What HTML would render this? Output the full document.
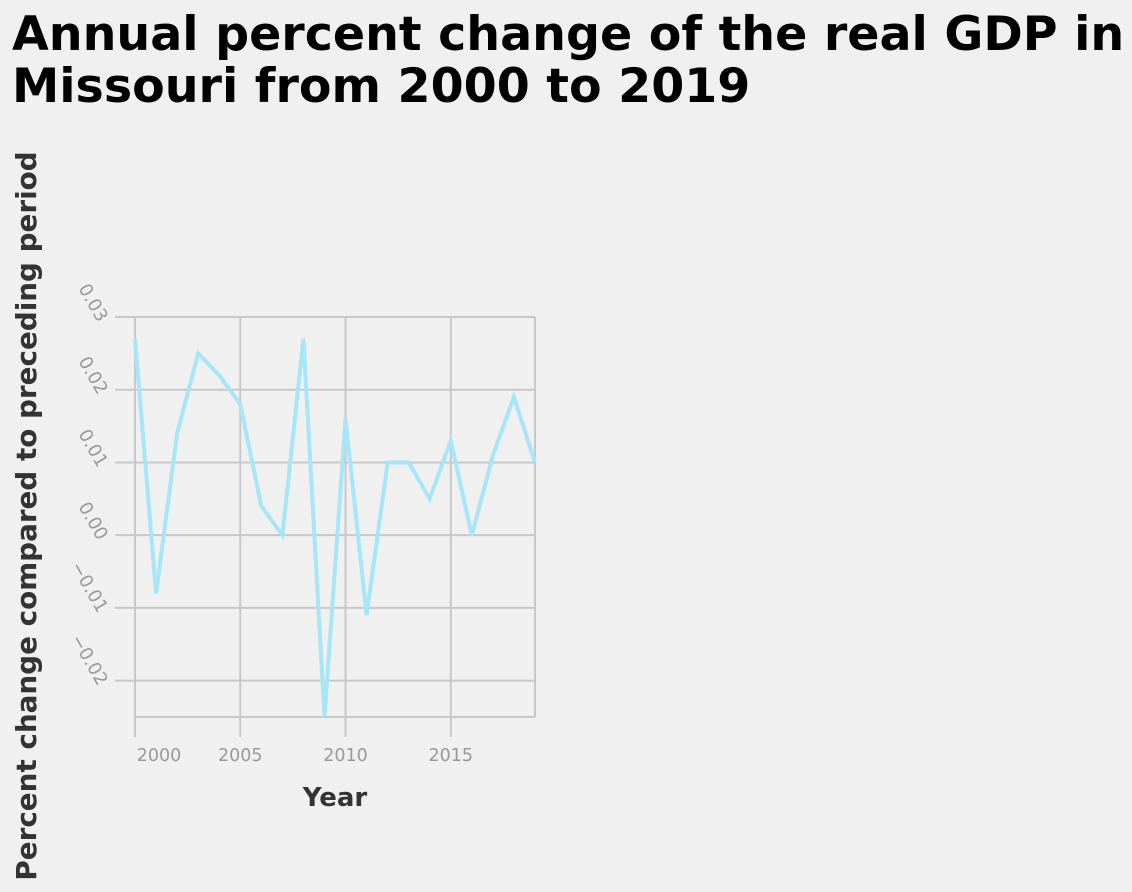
<!DOCTYPE html>
<html><head><meta charset="utf-8"><style>
body{margin:0;background:#f0f0f0;}
svg{display:block;font-family:"DejaVu Sans","Liberation Sans",sans-serif;}
</style></head><body>
<svg width="1132" height="892">
<rect width="1132" height="892" fill="#f0f0f0"/>
<text x="12" y="50" font-size="47.5" font-weight="bold" fill="#000">Annual percent change of the real GDP in</text>
<text x="12" y="102" font-size="47.5" font-weight="bold" fill="#000">Missouri from 2000 to 2019</text>
<g id="grid"></g>
<g id="xt"></g>
<g id="yt"></g>
<path id="line" fill="none" stroke="#a6e6f8" stroke-width="4" stroke-linejoin="miter"/>
<text x="335" y="806" font-size="26" font-weight="bold" fill="#333" text-anchor="middle">Year</text>
<text transform="translate(36,516) rotate(-90)" font-size="27.8" font-weight="bold" fill="#333" text-anchor="middle">Percent change compared to preceding period</text>
</svg>
<script>
const years=[2000,2001,2002,2003,2004,2005,2006,2007,2008,2009,2010,2011,2012,2013,2014,2015,2016,2017,2018,2019];
const values=[0.027,-0.008,0.014,0.025,0.022,0.018,0.004,0.000,0.027,-0.025,0.016,-0.011,0.010,0.010,0.005,0.013,0.000,0.011,0.019,0.010];
const xTicks=[2000,2005,2010,2015];
const yTicks=[0.03,0.02,0.01,0.00,-0.01,-0.02];
const yLabels=["0.03","0.02","0.01","0.00","\u22120.01","\u22120.02"];
const NS="http://www.w3.org/2000/svg";
const X0=135,X1=535,Y0=717,Y1=317;
const xs=v=>X0+(v-2000)/(2019-2000)*(X1-X0);
const ys=v=>Y0-(v+0.025)/(0.055)*(Y0-Y1);
function mk(tag,attrs,parent){const e=document.createElementNS(NS,tag);for(const k in attrs)e.setAttribute(k,attrs[k]);parent.appendChild(e);return e;}
const grid=document.getElementById('grid'),xt=document.getElementById('xt'),yt=document.getElementById('yt');
yTicks.forEach((t,i)=>{
 const l=mk('line',{x1:115,x2:X1,y1:ys(t),y2:ys(t),stroke:'#c8c8c8','stroke-width':2},grid);
 
 
 const y=ys(t);
 const tx=mk('text',{transform:`translate(98,${y+6}) rotate(60)`,'font-size':18,fill:'#999','text-anchor':'end'},yt);
 tx.textContent=yLabels[i];
 
 
});
const b=mk('line',{x1:X0,x2:X1,y1:Y0,y2:Y0,stroke:'#c8c8c8','stroke-width':2},grid);


const r=mk('line',{x1:X1,x2:X1,y1:Y1,y2:Y0,stroke:'#c8c8c8','stroke-width':2},grid);


xTicks.forEach((t,i)=>{
 const x=xs(t);
 const l=mk('line',{x1:x,x2:x,y1:Y1,y2:737,stroke:'#c8c8c8','stroke-width':2},grid);
 
 
 const tx=mk('text',{x:i===0?x+24:x,y:761,'font-size':17.5,fill:'#999','text-anchor':'middle'},xt);
 tx.textContent=String(t);
 
 
});
document.getElementById('line').setAttribute('d',years.map((y,i)=>(i?'L':'M')+xs(y).toFixed(1)+','+ys(values[i]).toFixed(1)).join(''));
</script>
</body></html>
